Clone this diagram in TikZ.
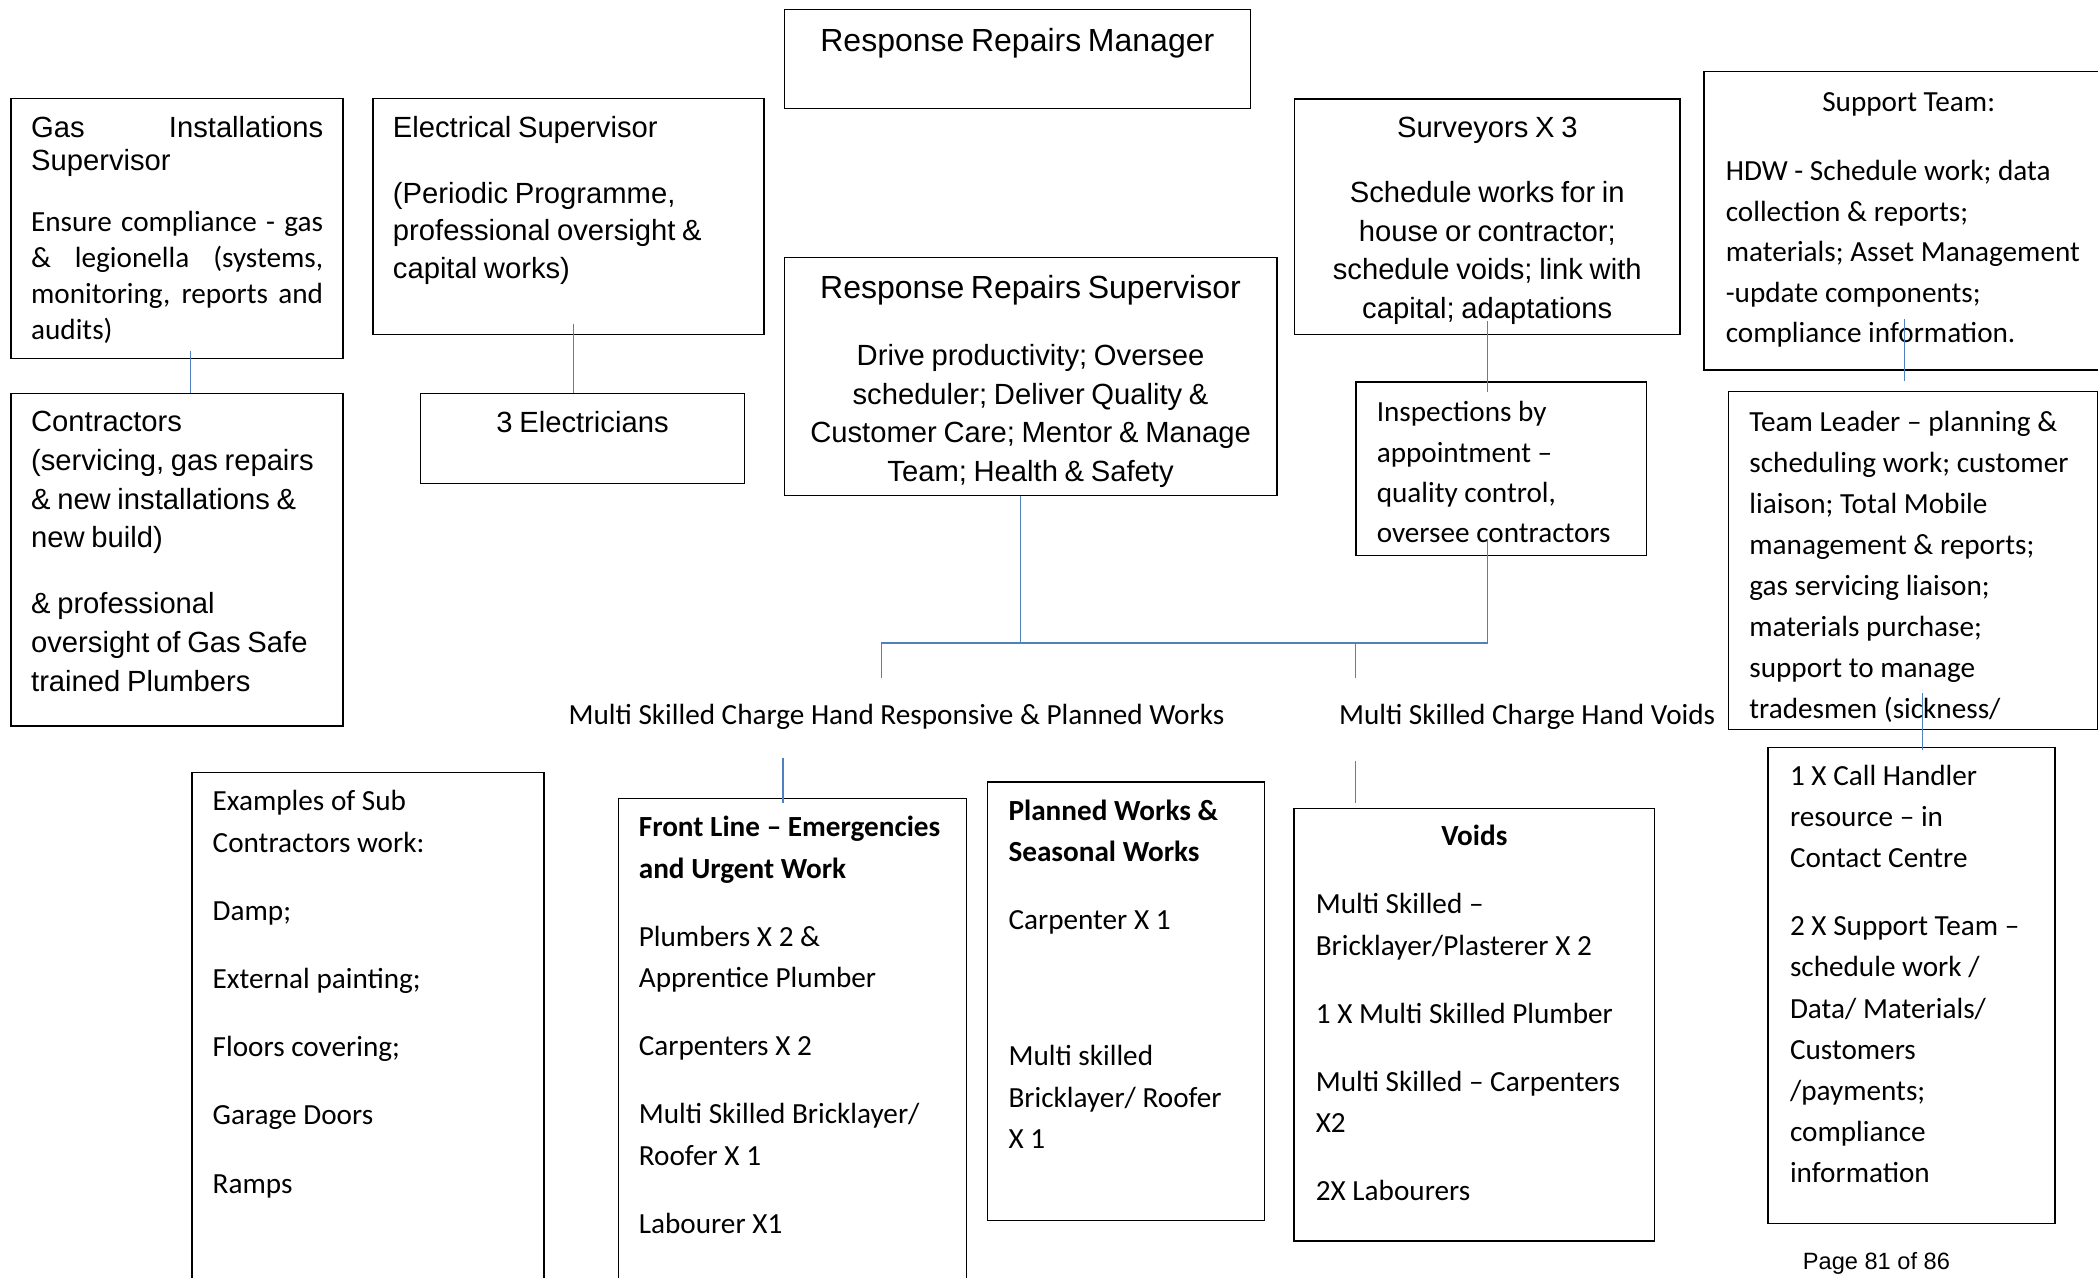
\documentclass[tikz,border=0pt]{standalone}
\usepackage{fontspec}
\setmainfont{Carlito}
\newfontfamily\arialfont{Liberation Sans}
\usetikzlibrary{positioning,calc}
\definecolor{linkblue}{RGB}{79,129,189}
\newcommand\arialsize[2]{\arialfont\fontsize{#1}{#2}\selectfont}
\newcommand\calisize[2]{\rmfamily\fontsize{#1}{#2}\selectfont}

\begin{document}
\begin{tikzpicture}[x=0.669pt, y=-0.669pt, box/.style={draw, line width=0.7pt, anchor=north west, inner ysep=0pt, inner xsep=10pt, align=left}, link/.style={draw=linkblue, line width=0.7pt}]

\useasboundingbox (0,0) rectangle (1568,955);

% TOP ROW

\node [box, align=center, text width=213.1pt, text height=21.2pt, text depth=28.3pt] (mgr) at (585.6,6.4)
{\arialsize{16pt}{19.3pt}Response Repairs Manager\par};

\node [box, align=justify, text width=146pt, text height=19.6pt, text depth=110.4pt] (gas) at (7.8,73)
{\arialsize{14.6pt}{16.7pt}Gas\hfill Installations\\Supervisor\par\vspace{12.6pt}%
\calisize{14.6pt}{17.9pt}Ensure compliance - gas\linebreak \& legionella (systems,\linebreak monitoring, reports and\linebreak audits)\par};

\node [box, text width=146pt, text height=18.9pt, text depth=147.3pt, below=17pt of gas.south west, anchor=north west] (cont)
{\arialsize{14.6pt}{19.4pt}Contractors\\(servicing, gas repairs\\\& new installations \&\\new build)\\[13.4pt]\& professional\\oversight of Gas Safe\\trained Plumbers\par};

\node [box, text width=175.6pt, text height=19.4pt, text depth=98.6pt] (elec) at (278.2,73.3)
{\arialsize{14.6pt}{18.9pt}Electrical Supervisor\\[13.9pt](Periodic Programme,\\professional oversight \&\\capital works)\par};

\node [box, align=center, text width=142pt, text height=19.5pt, text depth=25.5pt, below right=28.6pt and 23.8pt of elec.south west, anchor=north west] (elecs)
{\arialsize{14.6pt}{19.3pt}3 Electricians\par};

\node [box, align=center, text width=226.3pt, text height=20.5pt, text depth=98.6pt, below=73.9pt of mgr.south west, anchor=north west] (sup)
{\arialsize{16pt}{19.3pt}Response Repairs Supervisor\\[14.3pt]%
\arialsize{14.6pt}{19.3pt}Drive productivity; Oversee\\scheduler; Deliver Quality \&\\Customer Care; Mentor \& Manage\\Team; Health \& Safety\par};

\node [box, align=center, text width=172.7pt, text height=19.3pt, text depth=98.6pt] (surv) at (967,73.4)
{\arialsize{14.6pt}{19.3pt}Surveyors X 3\\[13.3pt]Schedule works for in\\house or contractor;\\schedule voids; link with\\capital; adaptations\par};

\node [box, inner xsep=10.3pt, text width=124.6pt, text height=20pt, text depth=66.8pt, below right=22.9pt and 30.8pt of surv.south west, anchor=north west] (insp)
{\calisize{14.6pt}{20.1pt}Inspections by\\appointment –\\quality control,\\oversee contractors\par};

\node [box, inner xsep=10.9pt, text width=182.9pt, text height=19.7pt, text depth=129.4pt] (support) at (1273,53)
{\calisize{14.6pt}{20.3pt}{\centering Support Team:\par}\vspace{14.4pt}%
HDW - Schedule work; data\\collection \& reports;\\materials; Asset Management\\-update components;\\compliance information.\par};

\node [box, inner xsep=10.5pt, text width=163.8pt, text height=20.1pt, text depth=149pt, below right=10.1pt and 12.2pt of support.south west, anchor=north west] (team)
{\calisize{14.6pt}{20.5pt}Team Leader – planning \&\\scheduling work; customer\\liaison; Total Mobile\\management \& reports;\\gas servicing liaison;\\materials purchase;\\support to manage\\tradesmen (sickness/\par};

\node [box, inner xsep=11pt, text width=121.4pt, text height=18.8pt, text depth=219pt, below right=8.3pt and 19.8pt of team.south west, anchor=north west] (call)
{\calisize{14.6pt}{20.6pt}1 X Call Handler\\resource – in\\Contact Centre\\[13.4pt]2 X Support Team –\\schedule work /\\Data/ Materials/\\Customers\\/payments;\\compliance\\information\par};

% CHARGE HANDS

\node [anchor=base west, inner sep=0pt] (handA) at (424.7,541.4)
{\calisize{14.6pt}{17.8pt}Multi Skilled Charge Hand Responsive \& Planned Works};

\node [anchor=base west, inner sep=0pt] (handB) at (1000.5,541.4)
{\calisize{14.6pt}{17.8pt}Multi Skilled Charge Hand Voids};

% TEAMS

\node [box, inner xsep=10.4pt, text width=155.2pt, text height=19.3pt, text depth=240.5pt] (subcon) at (142.9,576.7)
{\calisize{14.6pt}{20.6pt}Examples of Sub\\Contractors work:\\[13.5pt]Damp;\\[13.5pt]External painting;\\[13.5pt]Floors covering;\\[13.5pt]Garage Doors\\[13.5pt]Ramps\par};

\node [box, inner xsep=10.2pt, text width=153.6pt, text height=19.2pt, text depth=227.5pt] (front) at (461.7,596.2)
{\calisize{14.6pt}{20.6pt}\textbf{Front Line – Emergencies}\\\textbf{and Urgent Work}\\[13.5pt]Plumbers X 2 \&\\Apprentice Plumber\\[13.5pt]Carpenters X 2\\[13.5pt]Multi Skilled Bricklayer/\\Roofer X 1\\[13.5pt]Labourer X1\par};

\node [box, inner xsep=10.4pt, text width=117.6pt, text height=19.2pt, text depth=200.1pt] (planned) at (737.7,583.9)
{\calisize{14.6pt}{20.6pt}\textbf{Planned Works \&}\\\textbf{Seasonal Works}\\[13.5pt]Carpenter X 1\\[47.5pt]Multi skilled\\Bricklayer/ Roofer\\X 1\par};

\node [box, inner xsep=10.9pt, text width=158.5pt, text height=18.5pt, text depth=197.9pt] (voids) at (966.6,603.6)
{\calisize{14.6pt}{20.6pt}{\centering\textbf{Voids}\par}\vspace{13.7pt}%
Multi Skilled –\\Bricklayer/Plasterer X 2\\[13.5pt]1 X Multi Skilled Plumber\\[13.5pt]Multi Skilled – Carpenters\\X2\\[13.5pt]2X Labourers\par};

\node [anchor=base, inner sep=0pt] (page) at (1402.4,948.8) {\arialsize{11.8pt}{14pt}Page 81 of 86};

% LINKS

\coordinate (bus) at ($(sup.south west)+(177.2,109.7)$);
\coordinate (busL) at ($(bus)+(-103.9,0)$);
\coordinate (busR) at (surv.south |- bus);
\coordinate (busM) at (insp.south west |- bus);
\coordinate (dropL) at ($(busL)+(0,25.8)$);
\coordinate (dropM) at ($(busM)+(0,25.8)$);
\coordinate (frontin) at ($(front.north west)+(123.5,-29.8)$);
\coordinate (voidsin) at ($(busM)+(0,87.8)$);

\draw[link] (sup.south -| bus) -- (bus);

\draw[link] (dropL) -- (busL) -- (busR) -- ($(insp.south -| busR)+(0,-11.7)$);

\draw[link] (busM) -- (dropM);

\coordinate (g1) at ($(gas.south west)+(134.6,-5.9)$);
\draw[link] (g1) -- (g1 |- cont.north);

\coordinate (e1) at ($(elec.south west)+(150.6,-8.8)$);
\draw[link] (e1) -- (e1 |- elecs.north);

\coordinate (s1) at ($(surv.south)+(0,-10.7)$);
\draw[link] (s1) -- ($(s1 |- insp.north)+(0,8)$);

\coordinate (t1) at ($(support.south)+(-3.2,-38.3)$);
\draw[link] (t1) -- ($(t1 |- team.north)+(0,-7.4)$);

\coordinate (c1) at ($(team.south)+(6.8,-27.6)$);
\draw[link] (c1) -- ($(c1 |- call.north)+(0,2.2)$);

\draw[link] (frontin) -- ($(frontin |- front.north)+(0,4.3)$);

\draw[link] (voidsin) -- ($(voidsin |- voids.north)+(0,-3.1)$);

\end{tikzpicture}
\end{document}
